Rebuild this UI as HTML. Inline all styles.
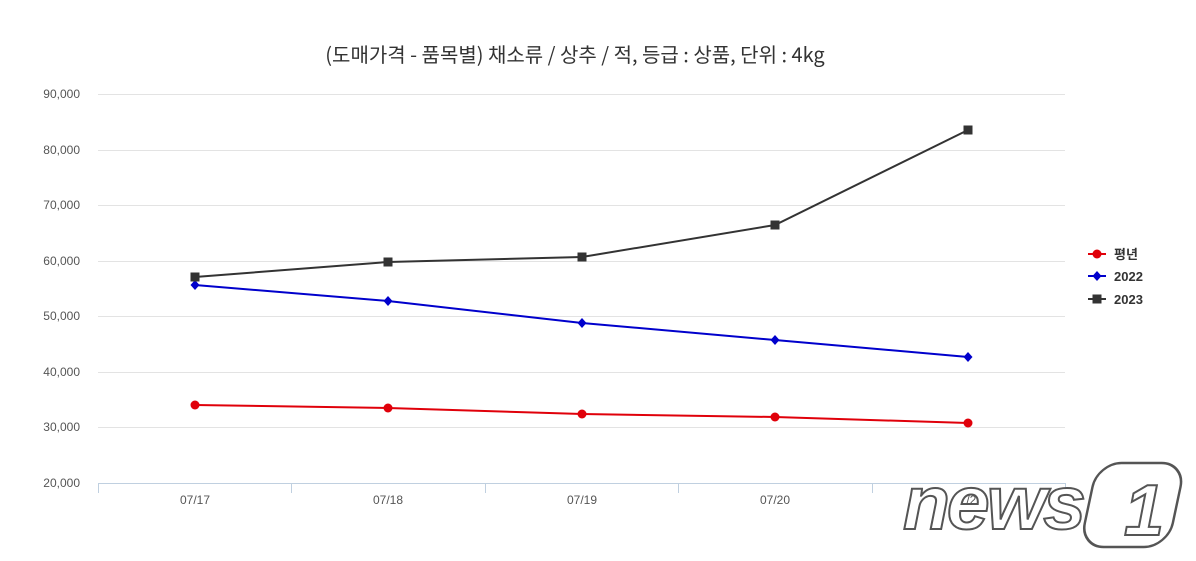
<!DOCTYPE html>
<html><head><meta charset="utf-8"><style>
body{margin:0;background:#fff;}
svg{display:block;font-family:"Liberation Sans","Noto Sans CJK KR",sans-serif;}
</style></head><body>
<svg width="1196" height="561" viewBox="0 0 1196 561">
<text x="575" y="62" text-anchor="middle" font-size="20" fill="#333" font-family="Noto Sans CJK KR, sans-serif">(도매가격 - 품목별) 채소류 / 상추 / 적, 등급 : 상품, 단위 : 4kg</text>
<g stroke="#e3e3e3" stroke-width="1">
<line x1="98" x2="1065" y1="94.5" y2="94.5"/><line x1="98" x2="1065" y1="150.5" y2="150.5"/>
<line x1="98" x2="1065" y1="205.5" y2="205.5"/><line x1="98" x2="1065" y1="261.5" y2="261.5"/>
<line x1="98" x2="1065" y1="316.5" y2="316.5"/><line x1="98" x2="1065" y1="372.5" y2="372.5"/>
<line x1="98" x2="1065" y1="427.5" y2="427.5"/>
</g>
<g stroke="#c0d0e0" stroke-width="1">
<line x1="98" x2="1065" y1="483.5" y2="483.5"/>
<line x1="98.5" x2="98.5" y1="483" y2="493"/><line x1="291.5" x2="291.5" y1="483" y2="493"/>
<line x1="485.5" x2="485.5" y1="483" y2="493"/><line x1="678.5" x2="678.5" y1="483" y2="493"/>
<line x1="872.5" x2="872.5" y1="483" y2="493"/><line x1="1065.5" x2="1065.5" y1="483" y2="493"/>
</g>
<g font-size="12" fill="#555" text-anchor="end">
<text x="80" y="98">90,000</text><text x="80" y="154">80,000</text><text x="80" y="209">70,000</text>
<text x="80" y="265">60,000</text><text x="80" y="320">50,000</text><text x="80" y="376">40,000</text>
<text x="80" y="431">30,000</text><text x="80" y="487">20,000</text>
</g>
<g font-size="12" fill="#555" text-anchor="middle">
<text x="195" y="504">07/17</text><text x="388" y="504">07/18</text><text x="582" y="504">07/19</text>
<text x="775" y="504">07/20</text><text x="968" y="504">07/21</text>
</g>
<polyline points="195,405 388,408 582,414 775,417 968,423" fill="none" stroke="#e0000a" stroke-width="2"/>
<g fill="#e0000a"><circle cx="195" cy="405" r="4.5"/><circle cx="388" cy="408" r="4.5"/><circle cx="582" cy="414" r="4.5"/><circle cx="775" cy="417" r="4.5"/><circle cx="968" cy="423" r="4.5"/></g>
<polyline points="195,285 388,301 582,323 775,340 968,357" fill="none" stroke="#0000cc" stroke-width="2"/>
<g fill="#0000cc"><path d="M195 280l4.5 5-4.5 5-4.5-5z"/><path d="M388 296l4.5 5-4.5 5-4.5-5z"/><path d="M582 318l4.5 5-4.5 5-4.5-5z"/><path d="M775 335l4.5 5-4.5 5-4.5-5z"/><path d="M968 352l4.5 5-4.5 5-4.5-5z"/></g>
<polyline points="195,277 388,262 582,257 775,225 968,130" fill="none" stroke="#333" stroke-width="2"/>
<g fill="#333"><rect x="190.5" y="272.5" width="9" height="9"/><rect x="383.5" y="257.5" width="9" height="9"/><rect x="577.5" y="252.5" width="9" height="9"/><rect x="770.5" y="220.5" width="9" height="9"/><rect x="963.5" y="125.5" width="9" height="9"/></g>
<g font-size="13" font-weight="bold" fill="#333">
<line x1="1088" x2="1106" y1="254" y2="254" stroke="#e0000a" stroke-width="2"/><circle cx="1097" cy="254" r="4.5" fill="#e0000a"/><text x="1114" y="259">평년</text>
<line x1="1088" x2="1106" y1="276" y2="276" stroke="#0000cc" stroke-width="2"/><path d="M1097 271l4.5 5-4.5 5-4.5-5z" fill="#0000cc"/><text x="1114" y="281">2022</text>
<line x1="1088" x2="1106" y1="299" y2="299" stroke="#333" stroke-width="2"/><rect x="1092.5" y="294.5" width="9" height="9" fill="#333"/><text x="1114" y="304">2023</text>
</g>
<text x="903" y="529" font-size="76" font-style="italic" font-weight="bold" fill="#fff" stroke="#555" stroke-width="2" letter-spacing="-3" textLength="180" lengthAdjust="spacingAndGlyphs">news</text>
<rect x="1098" y="463" width="88" height="84" rx="24" fill="#fff" stroke="#555" stroke-width="2.5" transform="skewX(-12) translate(98,0)"/>
<text x="1124" y="535" font-size="72" font-style="italic" font-weight="bold" fill="#fff" stroke="#555" stroke-width="2" font-family="Liberation Sans">1</text>
</svg>
</body></html>
